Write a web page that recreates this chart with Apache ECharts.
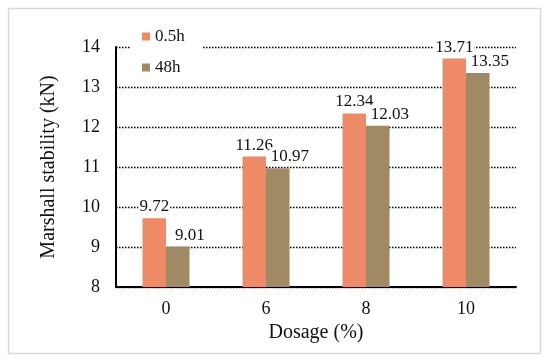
<!DOCTYPE html>
<html><head><meta charset="utf-8">
<script src="https://cdn.jsdelivr.net/npm/echarts@6/dist/echarts.min.js"></script>
<style>html,body{margin:0;padding:0;background:#fff}#c{width:550px;height:363px}</style>
</head><body><div id="c"></div>
<script>
const categories = ['0', '6', '8', '10'];
const series05h = [9.72, 11.26, 12.34, 13.71];
const series48h = [9.01, 10.97, 12.03, 13.35];
const yTicks = [8, 9, 10, 11, 12, 13, 14];

const font = '"Liberation Serif","Times New Roman",serif';
const chart = echarts.init(document.getElementById('c'));
const lbl = (dx) => ({show: true, position: 'top', distance: 2, offset: [dx, 0], color: '#111', fontFamily: font, fontSize: 17,
  backgroundColor: '#fff', padding: [1, 1], formatter: p => p.value.toFixed(2)});
chart.setOption({
  animation: false,
  graphic: [{type: 'rect', shape: {x: 8.5, y: 8.5, width: 532, height: 345}, style: {fill: 'none', stroke: '#d9d9d9', lineWidth: 1.5}, z: -1}],
  grid: {left: 116, right: 34, top: 47, bottom: 76},
  legend: {orient: 'vertical', left: 130, top: 24, itemWidth: 8, itemHeight: 8, itemGap: 14,
    backgroundColor: '#fff', padding: [4, 18, 4, 12],
    textStyle: {fontFamily: font, fontSize: 17, color: '#111'},
    data: [{name: '0.5h', icon: 'rect'}, {name: '48h', icon: 'rect'}]},
  xAxis: {type: 'category', data: categories, name: 'Dosage (%)', nameLocation: 'middle', nameGap: 32,
    nameTextStyle: {fontFamily: font, fontSize: 20, color: '#111'},
    axisLine: {lineStyle: {color: '#000', width: 2}}, axisTick: {show: false},
    axisLabel: {fontFamily: font, fontSize: 18, color: '#111', margin: 13}},
  yAxis: {type: 'value', min: yTicks[0], max: yTicks[yTicks.length - 1], interval: 1,
    name: 'Marshall stability (kN)', nameLocation: 'middle', nameGap: 57,
    nameTextStyle: {fontFamily: font, fontSize: 20, color: '#111'},
    axisLine: {show: true, lineStyle: {color: '#000', width: 2}}, axisTick: {show: false},
    axisLabel: {fontFamily: font, fontSize: 18, color: '#111', margin: 16},
    splitLine: {lineStyle: {color: '#000', type: [1.5, 1.5], width: 1.3}}},
  series: [
    {name: '0.5h', type: 'bar', data: series05h, barWidth: 23.5, barGap: '0%', itemStyle: {color: '#EE8A68'}, label: lbl(0)},
    {name: '48h', type: 'bar', data: series48h, barWidth: 23.5, barGap: '0%', itemStyle: {color: '#A08A66'}, label: lbl(12)}
  ]
});
</script></body></html>
